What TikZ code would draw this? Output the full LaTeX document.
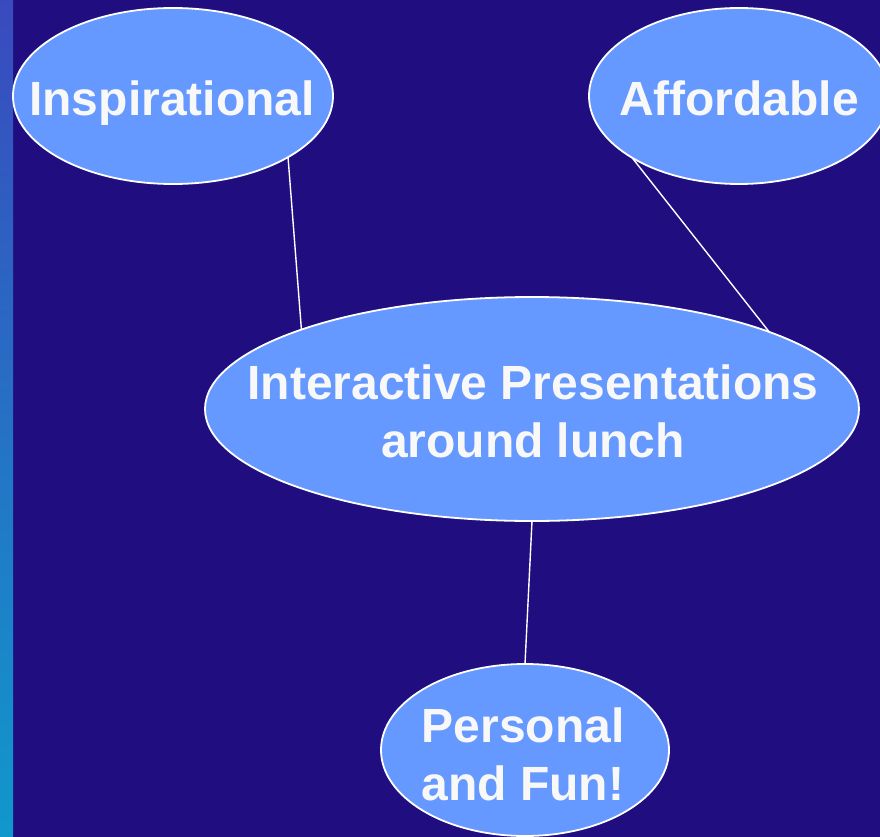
\documentclass[tikz,border=0pt]{standalone}
\usepackage{fontspec}
\setmainfont{Liberation Sans}
\usetikzlibrary{shapes.geometric}
\definecolor{bgblue}{RGB}{32,14,128}
\definecolor{bubble}{RGB}{102,153,255}
\definecolor{striptop}{RGB}{58,74,190}
\definecolor{stripbot}{RGB}{16,152,204}
\definecolor{txt}{RGB}{248,248,248}
\tikzset{
  bubblenode/.style={ellipse, draw=white, line width=1.8pt, fill=bubble, inner sep=0pt, outer sep=0pt},
  bubbletext/.style={inner sep=0pt, text=txt, font=\fontsize{48}{58}\selectfont\bfseries, align=center},
  link/.style={draw=white, line width=1.4pt}
}
\begin{document}
\begin{tikzpicture}[x=1pt,y=-1pt]
\useasboundingbox (0,0) rectangle (880,837);
\clip (0,0) rectangle (880,837);
\fill[bgblue] (0,0) rectangle (880,837);
\shade[top color=striptop, bottom color=stripbot] (0,0) rectangle (13,837);
\node[bubblenode, minimum width=320pt, minimum height=176pt] (insp) at (173,96) {};
\node[bubblenode, minimum width=300pt, minimum height=176pt] (aff) at (739,96) {};
\node[bubblenode, minimum width=654pt, minimum height=224pt] (core) at (532,409) {};
\node[bubblenode, minimum width=288pt, minimum height=172pt] (pers) at (525,750) {};
\node[bubbletext, anchor=base] (insp-t) at (172,116) {Inspirational};
\node[bubbletext, anchor=base] (aff-t) at (739,116) {Affordable};
\node[bubbletext] (core-t) at (533,411) {Interactive Presentations\\around lunch};
\node[bubbletext] (pers-t) at (523,754) {Personal\\and Fun!};
\draw[link] (insp.-28.5) -- (core.161);
\draw[link] (aff.210.3) -- (core.18.9);
\draw[link] (core.-90) -- (pers.90);
\end{tikzpicture}
\end{document}
